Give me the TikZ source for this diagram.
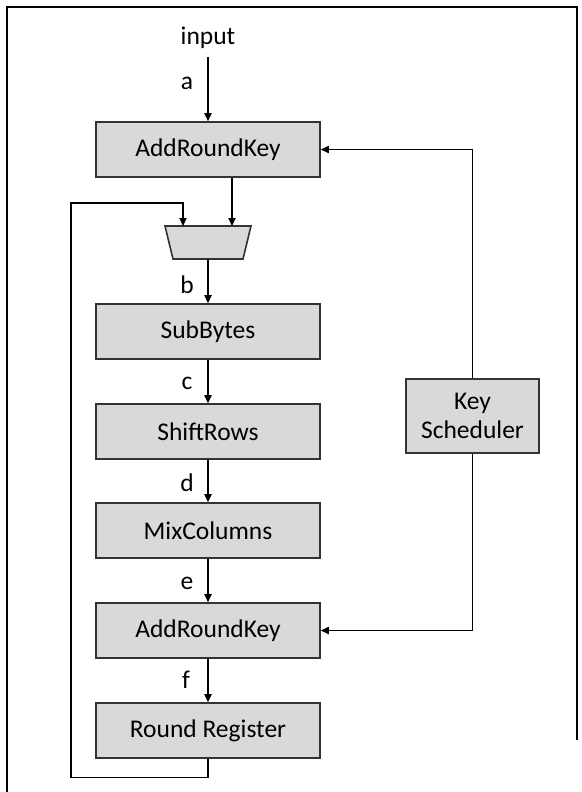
\documentclass[tikz,border=0pt]{standalone}
\usepackage{fontspec}
\setmainfont{Carlito}
\usetikzlibrary{arrows.meta}
\begin{document}
\begin{tikzpicture}[x=0.5pt,y=-0.5pt,
  font=\fontsize{12.75}{14.6}\selectfont,
  line width=0.6pt,
  arr/.style={-{Triangle[length=4pt,width=3.6pt]}},
  blkline/.style={draw=black!80,line width=0.8pt,fill=gray!30},
  blk/.style={rectangle,blkline,inner sep=0pt,
    minimum width=112pt,minimum height=27.5pt,align=center},
  lbl/.style={inner sep=0pt}]
\useasboundingbox (0,0) rectangle (582,792);
% frame
\draw[line width=0.7pt] (7,792) -- (7,7) -- (577,7) -- (577,740);
% nodes
\node[lbl] (input) at (208,38) {input};
\node[blk] (ark1) at (208,149.5) {AddRoundKey};
% multiplexer
\coordinate (muxN) at (208,226);
\coordinate (muxS) at (208,259);
\path[blkline] (165,226) -- (251,226) -- (243,259) -- (173,259) -- cycle;
\node[blk] (sub) at (208,331.5) {SubBytes};
\node[blk] (shift) at (208,431.5) {ShiftRows};
\node[blk] (mix) at (208,530.5) {MixColumns};
\node[blk] (ark2) at (208,630.5) {AddRoundKey};
\node[blk] (rr) at (208,730.5) {Round Register};
\node[blk,minimum width=66.5pt,minimum height=37pt] (key) at (472.5,416) {Key\\Scheduler};
% labels
\node[lbl] (la) at (187,83) {a};
\node[lbl] (lb) at (187,285) {b};
\node[lbl] (lc) at (187,383) {c};
\node[lbl] (ld) at (187,483) {d};
\node[lbl] (le) at (187,583) {e};
\node[lbl] (lf) at (186,680) {f};
% connectors
\coordinate (inTop) at (208,57);
\draw[arr] (inTop) -- (ark1.north);
\draw[arr] ([xshift=12pt]ark1.south) -- ([xshift=12pt]muxN);
\draw[arr] (muxS) -- (sub.north);
\draw[arr] (sub) -- (shift);
\draw[arr] (shift) -- (mix);
\draw[arr] (mix) -- (ark2);
\draw[arr] (ark2) -- (rr);
\draw[arr] (rr.south) -- ++(0,19) -| (71,203) -| ([xshift=-12.5pt]muxN);
\draw[arr] (key.north) |- (ark1.east);
\draw[arr] (key.south) |- (ark2.east);
\end{tikzpicture}
\end{document}
